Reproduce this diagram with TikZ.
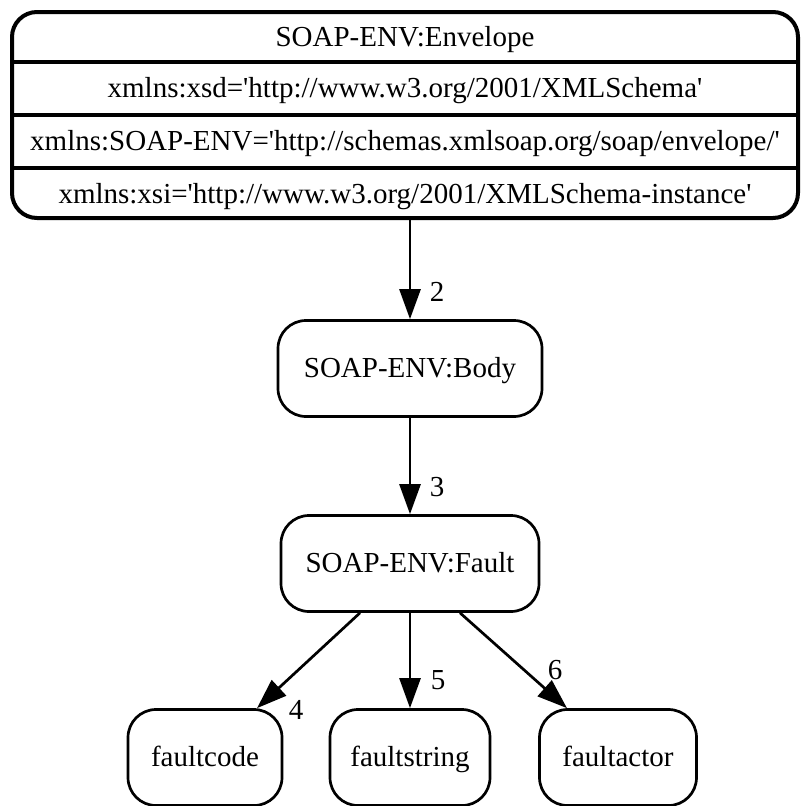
\documentclass[tikz,border=0pt]{standalone}
\usepackage{fontspec}
\setmainfont{Liberation Serif}
\usetikzlibrary{arrows.meta}
\newcommand{\sq}{\textquotesingle}
\begin{document}
\begin{tikzpicture}[x=1pt,y=-1pt,
  every node/.style={font=\fontsize{29}{33}\selectfont, text height=18pt, text depth=0pt, inner sep=0pt},
  record/.style={draw, line width=4pt, rounded corners=25pt},
  box/.style={draw, line width=2.7pt, rounded corners=28pt, minimum height=96pt},
  link/.style={line width=2.7pt, -{Triangle[length=30pt,width=21pt]}},
  lbl/.style={}]
\useasboundingbox (0,0) rectangle (803,806);

% envelope record with its four fields
\node[record, minimum width=786pt, minimum height=206pt] (env) at (405,115) {};
\draw[line width=4pt] (env.west |- 0,62)  -- (env.east |- 0,62);
\draw[line width=4pt] (env.west |- 0,115) -- (env.east |- 0,115);
\draw[line width=4pt] (env.west |- 0,168) -- (env.east |- 0,168);
\node (f1) at (405,37)    {SOAP-ENV:Envelope};
\node (f2) at (405,88.5)  {xmlns:xsd=\sq http://www.w3.org/2001/XMLSchema\sq};
\node (f3) at (405,141.5) {xmlns:SOAP-ENV=\sq http://schemas.xmlsoap.org/soap/envelope/\sq};
\node (f4) at (405,194)   {xmlns:xsi=\sq http://www.w3.org/2001/XMLSchema-instance\sq};

% element nodes
\node[box, minimum width=264pt] (body)   at (410,368.5) {SOAP-ENV:Body};
\node[box, minimum width=258pt] (fault)  at (410,563.5) {SOAP-ENV:Fault};
\node[box, minimum width=154pt] (fcode)  at (205,757.5) {faultcode};
\node[box, minimum width=160pt] (fstr)   at (410,757.5) {faultstring};
\node[box, minimum width=157pt] (factor) at (618,757.5) {faultactor};

% connectors
\draw[link] (body.north |- env.south) -- (body.north);
\draw[link] (body.south) -- (fault.north);
\draw[link] ([xshift=-50pt]fault.south) -- ([xshift=52pt]fcode.north);
\draw[link] (fault.south) -- (fstr.north);
\draw[link] ([xshift=50pt]fault.south) -- ([xshift=-51pt]factor.north);

% edge labels
\node[lbl] (l2) at (437,292) {2};
\node[lbl] (l3) at (437,487) {3};
\node[lbl] (l4) at (296,710) {4};
\node[lbl] (l5) at (438,680) {5};
\node[lbl] (l6) at (555,670) {6};
\end{tikzpicture}
\end{document}
